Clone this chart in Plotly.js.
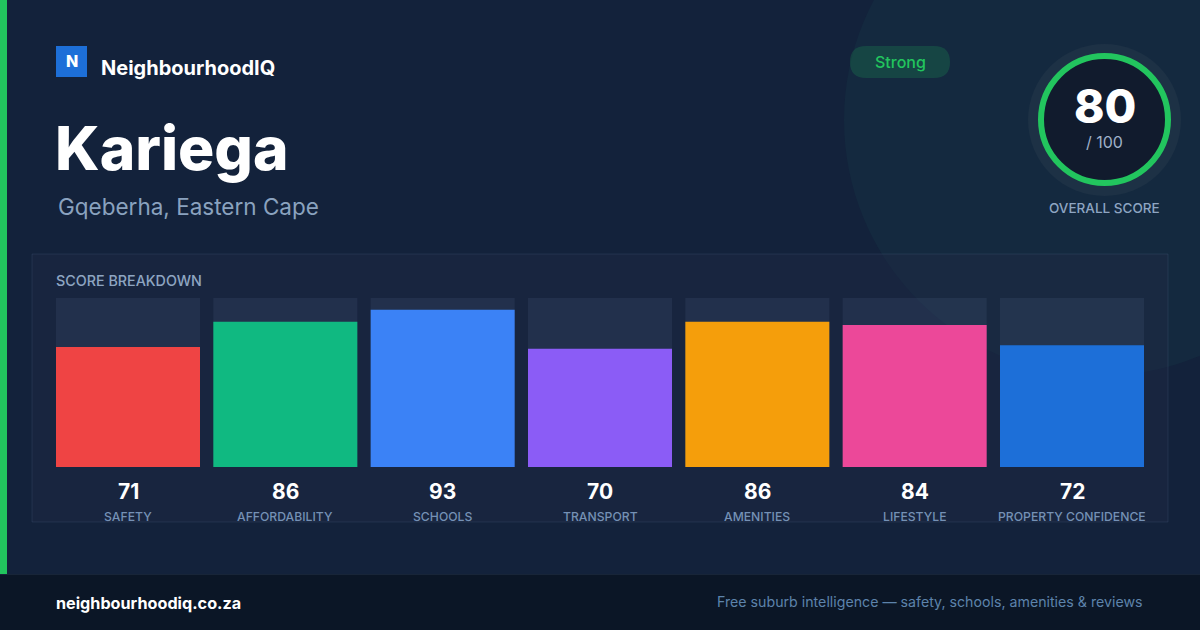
<!DOCTYPE html>
<html><head><meta charset="utf-8">
<script src="https://cdn.plot.ly/plotly-3.0.1.min.js"></script>
<style>html,body{margin:0;padding:0;background:#13223b;}#chart{width:1200px;height:630px;}</style>
</head><body><div id="chart"></div>
<script>
// ---- data ----
const categories = ["SAFETY","AFFORDABILITY","SCHOOLS","TRANSPORT","AMENITIES","LIFESTYLE","PROPERTY CONFIDENCE"];
const scores = [71, 86, 93, 70, 86, 84, 72];
const barColors = ["#ef4444","#10b981","#3b82f6","#8b5cf6","#f59e0b","#ec4899","#1d6fd8"];
const maxScore = 100;
const overallScore = 80;
const suburb = "Kariega";
const region = "Gqeberha, Eastern Cape";
const rating = "Strong";

// ---- helpers (pixel -> paper) ----
const W = 1200, H = 630;
const px = x => x / W;
const py = y => 1 - y / H;

const track = {
  type: 'bar', x: categories, y: categories.map(() => maxScore),
  marker: {color: 'rgba(148,170,210,0.09)'}, hoverinfo: 'skip', showlegend: false
};
const bars = {
  type: 'bar', x: categories, y: scores,
  marker: {color: barColors}, showlegend: false,
  hovertemplate: '%{x}: %{y}<extra></extra>'
};

const shapes = [
  {type:'circle', xref:'paper', yref:'paper', x0:px(1100-256), x1:px(1100+256), y0:py(120+256), y1:py(120-256),
   fillcolor:'rgba(45,170,130,0.05)', line:{width:0}, layer:'below'},
  {type:'rect', xref:'paper', yref:'paper', x0:px(32), x1:px(1168), y0:py(522), y1:py(254),
   fillcolor:'rgba(30,42,68,0.45)', line:{color:'rgba(120,145,185,0.14)', width:1}, layer:'below'},
  {type:'rect', xref:'paper', yref:'paper', x0:0, x1:px(7), y0:py(574), y1:1,
   fillcolor:'#22c55e', line:{width:0}, layer:'below'},
  {type:'rect', xref:'paper', yref:'paper', x0:0, x1:1, y0:0, y1:py(574),
   fillcolor:'#0b1626', line:{width:0}, layer:'below'},
  {type:'line', xref:'paper', yref:'paper', x0:0, x1:1, y0:py(574.5), y1:py(574.5),
   line:{color:'#182538', width:1}, layer:'below'},
  {type:'rect', xref:'paper', yref:'paper', x0:px(56), x1:px(87), y0:py(77), y1:py(46),
   fillcolor:'#1d6fd8', line:{width:0}},
  {type:'path', xref:'paper', yref:'paper',
   path: (() => { const x0=850,x1=950,y0=46,y1=78,r=16;
     const P=(x,y)=>`${px(x)},${py(y)}`;
     return `M${P(x0+r,y0)} L${P(x1-r,y0)} Q${P(x1,y0)} ${P(x1,y0+r)} Q${P(x1,y1)} ${P(x1-r,y1)} L${P(x0+r,y1)} Q${P(x0,y1)} ${P(x0,y0+r)} Q${P(x0,y0)} ${P(x0+r,y0)} Z`; })(),
   fillcolor:'rgba(34,197,94,0.18)', line:{width:0}},
  {type:'circle', xref:'paper', yref:'paper', x0:px(1104.5-76.5), x1:px(1104.5+76.5), y0:py(120+76), y1:py(120-76),
   fillcolor:'#1d3145', line:{width:0}},
  {type:'circle', xref:'paper', yref:'paper', x0:px(1104.5-63.5), x1:px(1104.5+63.5), y0:py(119.5+63.5), y1:py(119.5-63.5),
   fillcolor:'#111b2d', line:{color:'#22c55e', width:6}}
];

const F = 'Inter, "Noto Sans", sans-serif';
const ann = (text, x, y, size, color, opts={}) => Object.assign({
  text, xref:'paper', yref:'paper', x:px(x), y:py(y), xanchor:'left', yanchor:'middle',
  showarrow:false, borderpad:0, font:{family:F, size, color}
}, opts);

const annotations = [
  ann('N', 71.5, 61.5, 16, '#ffffff', {xanchor:'center', font:{family:F,size:16,color:'#fff',weight:800}}),
  ann('NeighbourhoodIQ', 100, 68, 20, '#fff', {font:{family:F,size:20,color:'#fff',weight:700}}),
  ann(suburb, 54, 148, 60.5, '#fff', {font:{family:F,size:60.5,color:'#fff',weight:800}}),
  ann(region, 57, 207, 22.5, '#8aa2bf'),
  ann(rating, 900, 62, 16, '#22c55e', {xanchor:'center', font:{family:F,size:16,color:'#22c55e',weight:500}}),
  ann(String(overallScore), 1104.5, 106, 46, '#fff', {xanchor:'center', font:{family:F,size:46,color:'#fff',weight:800}}),
  ann('/ ' + maxScore, 1104.5, 142, 16, '#9fb1c8', {xanchor:'center'}),
  ann('OVERALL SCORE', 1104.5, 208, 13.5, '#8ea5c2', {xanchor:'center', font:{family:F,size:13.5,color:'#8ea5c2',weight:500}}),
  ann('SCORE BREAKDOWN', 55, 280, 14.3, '#8ea5c2', {font:{family:F,size:14.3,color:'#8ea5c2',weight:500}}),
  ann('neighbourhoodiq.co.za', 55, 603, 16.2, '#fff', {font:{family:F,size:16.2,color:'#fff',weight:700}}),
  ann('Free suburb intelligence — safety, schools, amenities &amp; reviews', 1144, 602, 14.2, '#5d83ab', {xanchor:'right'})
];
categories.forEach((c, i) => {
  annotations.push({text:String(scores[i]), xref:'x', yref:'paper', x:c, y:py(491), yanchor:'middle',
    showarrow:false, borderpad:0, font:{family:F, size:21, color:'#ffffff', weight:700}});
  annotations.push({text:c, xref:'x', yref:'paper', x:c, y:py(516), yanchor:'middle',
    showarrow:false, borderpad:0, font:{family:F, size:12.2, color:'#7591b5', weight:500}});
});

const layout = {
  width: W, height: H, margin:{l:0,r:0,t:0,b:0,pad:0},
  paper_bgcolor:'#13223b', plot_bgcolor:'rgba(0,0,0,0)',
  barmode:'overlay', bargap: 1 - 144/157.33,
  xaxis:{domain:[px(49.33), px(1150.67)], type:'category', visible:false, fixedrange:true},
  yaxis:{domain:[py(467), py(298)], range:[0, maxScore], visible:false, fixedrange:true},
  shapes, annotations, showlegend:false
};
Plotly.newPlot('chart', [track, bars], layout, {displayModeBar:false, staticPlot:true});
</script></body></html>
